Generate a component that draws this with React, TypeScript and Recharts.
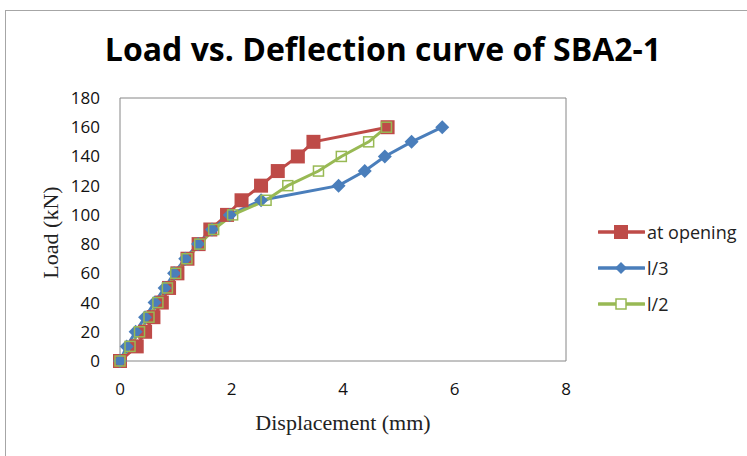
import React from "react";
import { LineChart, Line, XAxis, YAxis, Legend, ReferenceLine } from "recharts";

const loads = [0, 10, 20, 30, 40, 50, 60, 70, 80, 90, 100, 110, 120, 130, 140, 150, 160];
const openingDisp = [0, 0.3, 0.45, 0.6, 0.75, 0.88, 1.03, 1.21, 1.41, 1.62, 1.92, 2.18, 2.53, 2.83, 3.19, 3.47, 4.8];
const thirdDisp = [0, 0.12, 0.28, 0.45, 0.62, 0.8, 0.97, 1.17, 1.4, 1.65, 1.97, 2.53, 3.92, 4.39, 4.75, 5.23, 5.78];
const halfDisp = [0, 0.18, 0.35, 0.52, 0.68, 0.85, 1.0, 1.2, 1.43, 1.68, 2.02, 2.62, 3.01, 3.56, 3.97, 4.46, 4.78];

const xTicks = [0, 2, 4, 6, 8];
const yTicks = [0, 20, 40, 60, 80, 100, 120, 140, 160, 180];

const seriesNames = ["at opening", "l/3", "l/2"];
const seriesColors = ["#BE4B48", "#4A7EBB", "#98B954"];

const toPoints = (disp: number[]) => disp.map((d, i) => ({ x: d, load: loads[i] }));

const sansFont = "'Open Sans', 'Liberation Sans', sans-serif";
const serifFont = "'Liberation Serif', 'DejaVu Serif', serif";

const SquareDot = (props: any) => {
  const { cx, cy } = props;
  if (cx == null || cy == null) return null;
  return <rect x={cx - 7} y={cy - 7} width={14} height={14} fill={seriesColors[0]} />;
};

const DiamondDot = (props: any) => {
  const { cx, cy } = props;
  if (cx == null || cy == null) return null;
  const r = 7;
  return (
    <path
      d={`M${cx},${cy - r}L${cx + r},${cy}L${cx},${cy + r}L${cx - r},${cy}Z`}
      fill={seriesColors[1]}
    />
  );
};

const HollowDot = (props: any) => {
  const { cx, cy } = props;
  if (cx == null || cy == null) return null;
  return (
    <rect x={cx - 5} y={cy - 5} width={10} height={10} fill="none" stroke={seriesColors[2]} strokeWidth={1.5} />
  );
};

const legendMarker = (i: number) => {
  const c = seriesColors[i];
  if (i === 0) return <rect x={16} y={0} width={14} height={14} fill={c} />;
  if (i === 1) return <path d="M23,1L29,7L23,13L17,7Z" fill={c} />;
  return <rect x={18} y={2} width={10} height={10} fill="#fff" stroke={c} strokeWidth={1.5} />;
};

const renderLegend = () => (
  <div style={{ fontFamily: sansFont, fontSize: 18, color: "#222" }}>
    {seriesNames.map((name, i) => (
      <div key={name} style={{ display: "flex", alignItems: "center", height: 14, marginBottom: i < 2 ? 22 : 0 }}>
        <svg width={47} height={14} style={{ display: "block" }}>
          <line x1={1} y1={7} x2={46} y2={7} stroke={seriesColors[i]} strokeWidth={3.5} strokeLinecap="round" />
          {legendMarker(i)}
        </svg>
        <span style={{ marginLeft: 2, lineHeight: "14px" }}>{name}</span>
      </div>
    ))}
  </div>
);

export default function App() {
  return (
    <div style={{ position: "absolute", left: 0, top: 0, width: 747, height: 456, overflow: "hidden", background: "#fff" }}>
      <div style={{ position: "absolute", left: 5, top: 10, width: 800, height: 500, border: "1.5px solid #a6a6a6" }} />
      <div
        style={{
          position: "absolute",
          left: 0,
          width: 766,
          top: 27,
          textAlign: "center",
          fontFamily: sansFont,
          fontWeight: 700,
          fontSize: 32,
          color: "#000",
        }}
      >
        Load vs. Deflection curve of SBA2-1
      </div>
      <div style={{ position: "absolute", left: 0, top: 0 }}>
        <LineChart width={747} height={456} margin={{ top: 98, right: 181, bottom: 0, left: 0 }}>
          <XAxis
            type="number"
            dataKey="x"
            domain={[0, 8]}
            ticks={xTicks}
            allowDuplicatedCategory={false}
            height={95}
            stroke="#868686"
            tickLine={false}
            tickSize={0}
            tickMargin={22}
            tick={{ fill: "#111", fontSize: 17, fontFamily: sansFont }}
            label={{ value: "Displacement (mm)", position: "insideBottom", offset: 26, fill: "#222", fontSize: 22, fontFamily: serifFont }}
          />
          <YAxis
            type="number"
            dataKey="load"
            domain={[0, 180]}
            ticks={yTicks}
            width={120}
            stroke="#868686"
            tickLine={false}
            tickSize={0}
            tickMargin={20}
            tick={{ fill: "#111", fontSize: 17, fontFamily: sansFont }}
            label={(props: any) => {
              const vb = props.viewBox || {};
              const cy = (vb.y || 0) + (vb.height || 0) / 2 + 3;
              return (
                <text
                  x={50}
                  y={cy}
                  transform={`rotate(-90, 50, ${cy})`}
                  textAnchor="middle"
                  dominantBaseline="central"
                  fill="#222"
                  fontSize={22}
                  fontFamily={serifFont}
                >
                  Load (kN)
                </text>
              );
            }}
          />
          <ReferenceLine y={180} stroke="#868686" />
          <ReferenceLine x={8} stroke="#868686" />
          <Legend
            layout="vertical"
            align="center"
            verticalAlign="middle"
            content={renderLegend}
            wrapperStyle={{ position: "absolute", left: 598, top: 225, width: 150 }}
          />
          <Line
            data={toPoints(openingDisp)}
            dataKey="load"
            name={seriesNames[0]}
            stroke={seriesColors[0]}
            strokeWidth={3}
            dot={<SquareDot />}
            activeDot={false}
            isAnimationActive={false}
          />
          <Line
            data={toPoints(thirdDisp)}
            dataKey="load"
            name={seriesNames[1]}
            stroke={seriesColors[1]}
            strokeWidth={3}
            dot={<DiamondDot />}
            activeDot={false}
            isAnimationActive={false}
          />
          <Line
            data={toPoints(halfDisp)}
            dataKey="load"
            name={seriesNames[2]}
            stroke={seriesColors[2]}
            strokeWidth={3}
            dot={<HollowDot />}
            activeDot={false}
            isAnimationActive={false}
          />
        </LineChart>
      </div>
    </div>
  );
}
